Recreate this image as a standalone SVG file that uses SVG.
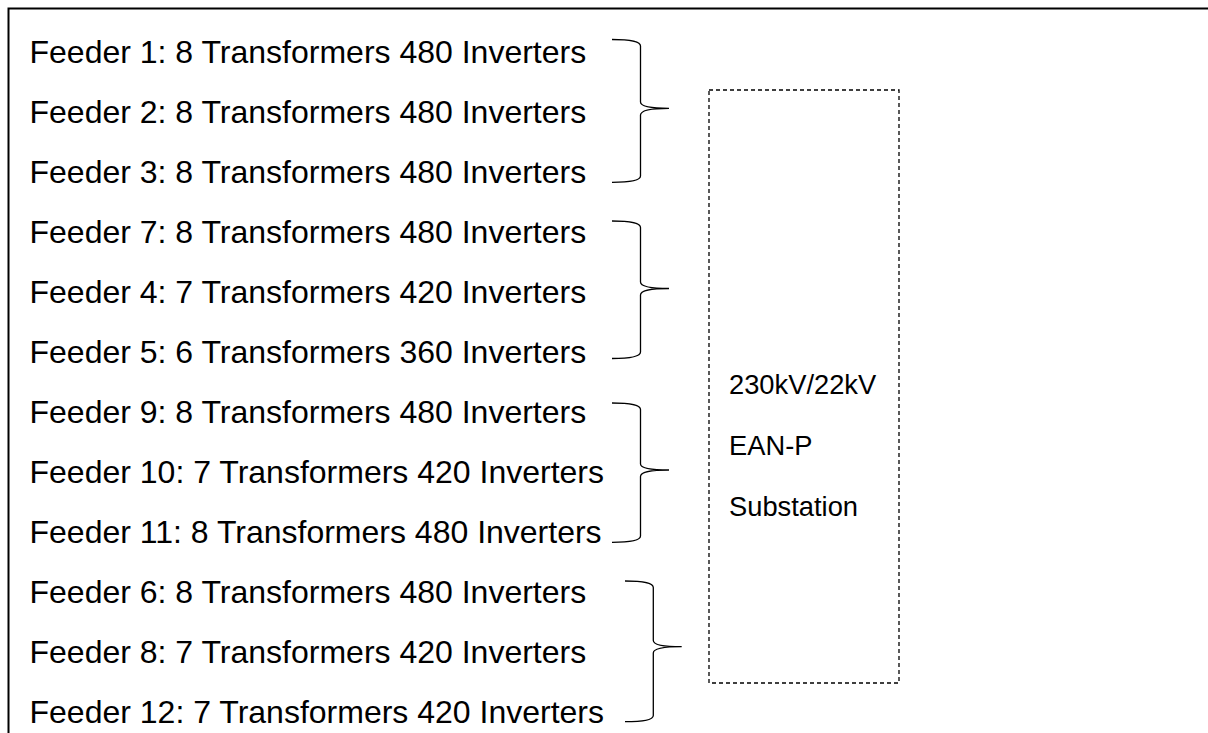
<svg xmlns="http://www.w3.org/2000/svg" width="1208" height="733" viewBox="0 0 1208 733">
  <style>
    .feeder { font-family: "Liberation Sans", Arial, sans-serif; font-size: 32px; fill: #000; }
    .sub { font-family: "Liberation Sans", Arial, sans-serif; font-size: 27.3px; fill: #000; }
    .brace { fill: none; stroke: #000; stroke-width: 1.3; }
    .frame { fill: none; stroke: #000; stroke-width: 2; }
    .station { fill: none; stroke: #000; stroke-width: 1.3; stroke-dasharray: 4 3; }
  </style>
  <rect width="1208" height="733" fill="#fff"/>

  <!-- outer frame, open to the right and bottom -->
  <path class="frame" d="M8.5,745 V8.5 H1220"/>

  <!-- feeder list -->
  <g id="feeders">
    <text id="feeder-1" class="feeder" x="29.5" y="62.5">Feeder 1: 8 Transformers 480 Inverters</text>
    <text id="feeder-2" class="feeder" x="29.5" y="122.5">Feeder 2: 8 Transformers 480 Inverters</text>
    <text id="feeder-3" class="feeder" x="29.5" y="182.5">Feeder 3: 8 Transformers 480 Inverters</text>
    <text id="feeder-7" class="feeder" x="29.5" y="242.5">Feeder 7: 8 Transformers 480 Inverters</text>
    <text id="feeder-4" class="feeder" x="29.5" y="302.5">Feeder 4: 7 Transformers 420 Inverters</text>
    <text id="feeder-5" class="feeder" x="29.5" y="362.5">Feeder 5: 6 Transformers 360 Inverters</text>
    <text id="feeder-9" class="feeder" x="29.5" y="422.5">Feeder 9: 8 Transformers 480 Inverters</text>
    <text id="feeder-10" class="feeder" x="29.5" y="482.5">Feeder 10: 7 Transformers 420 Inverters</text>
    <text id="feeder-11" class="feeder" x="29.5" y="542.5">Feeder 11: 8 Transformers 480 Inverters</text>
    <text id="feeder-6" class="feeder" x="29.5" y="602.5">Feeder 6: 8 Transformers 480 Inverters</text>
    <text id="feeder-8" class="feeder" x="29.5" y="662.5">Feeder 8: 7 Transformers 420 Inverters</text>
    <text id="feeder-12" class="feeder" x="29.5" y="722.5">Feeder 12: 7 Transformers 420 Inverters</text>
  </g>

  <!-- substation -->
  <g id="substation">
    <rect class="station" x="709" y="90" width="190" height="593"/>
    <text class="sub" x="729" y="394">230kV/22kV</text>
    <text class="sub" x="729" y="455">EAN-P</text>
    <text class="sub" x="729" y="516">Substation</text>
  </g>

  <!-- group braces -->
  <g id="connectors">
    <path class="brace" d="M612,39.5 Q640.5,39.5 640.5,46 V102 Q640.5,108.3 669,108.3 Q640.5,108.3 640.5,115 V176 Q640.5,182.3 612,182.3"/>
    <path class="brace" d="M612,221 Q640.5,221 640.5,227.5 V282 Q640.5,288.5 669,288.5 Q640.5,288.5 640.5,295 V352 Q640.5,358.5 612,358.5"/>
    <path class="brace" d="M612,403 Q640.5,403 640.5,409.5 V464 Q640.5,470 669,470 Q640.5,470 640.5,476.5 V536 Q640.5,542.3 612,542.3"/>
    <path class="brace" d="M625,581 Q653.3,581 653.3,587.5 V640.5 Q653.3,646.7 681.7,646.7 Q653.3,646.7 653.3,653 V715.5 Q653.3,721.7 625,721.7"/>
  </g>
</svg>
